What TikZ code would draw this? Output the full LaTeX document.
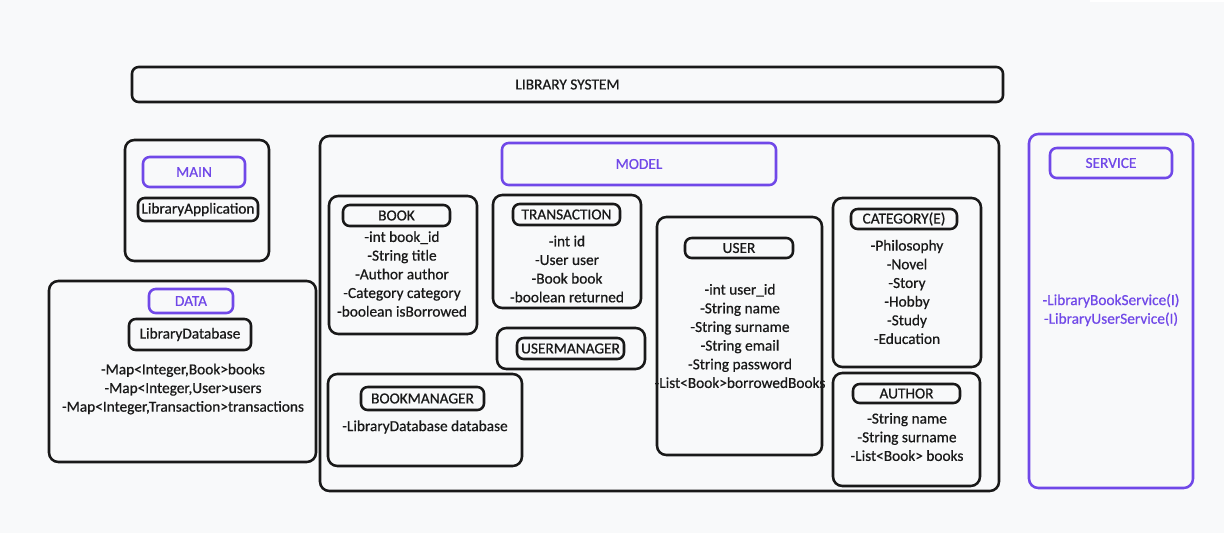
\documentclass[tikz,border=0pt]{standalone}
\usepackage{fontspec}
\setmainfont{Carlito}[FakeBold=0.6]
\usetikzlibrary{fit}
\definecolor{bg}{HTML}{F8F9FA}
\definecolor{vio}{HTML}{7048E8}
\begin{document}
\begin{tikzpicture}[x=0.75pt,y=-0.75pt,
  font=\fontsize{11.5}{14}\selectfont,
  box/.style={draw=black!90, line width=1.9pt, rounded corners=7pt, inner sep=0pt},
  pbox/.style={box, draw=vio},
  tag/.style={draw=black!90, line width=1.9pt, rounded corners=5pt, inner sep=0pt},
  ptag/.style={tag, draw=vio},
  txt/.style={align=center, inner sep=0pt, text=black!90},
  ptxt/.style={txt, text=vio}]
\fill[bg] (0,0) rectangle (1224,533);
\useasboundingbox (0,0) rectangle (1224,533);
\fill[white] (1090,0) rectangle (1224,2);
% title
\node[box, rounded corners=5pt, fit={(132,67)(1003,102)}] (title) {};
\node[txt] (titletxt) at (title.center) {LIBRARY SYSTEM};
% MAIN
\node[box, fit={(125,140)(269,261)}] (main) {};
\node[ptag, fit={(143,157)(245,187)}] (mainlbl) {};
\node[ptxt] (maintxt) at (mainlbl.center) {MAIN};
\node[tag, fit={(138,198)(258,221)}] (app) {};
\node[txt] (apptxt) at (app.center) {LibraryApplication};
% DATA
\node[box, fit={(49,281)(316,462)}] (data) {};
\node[ptag, fit={(149,289)(233,313)}] (datalbl) {};
\node[ptxt] (datalbltxt) at (datalbl.center) {DATA};
\node[tag, fit={(129,319)(251,350)}] (db) {};
\node[txt] (dbname) at (db.center) {LibraryDatabase};
\node[txt] (dbtxt) at (183,389) {-Map<Integer,Book>books\\-Map<Integer,User>users\\-Map<Integer,Transaction>transactions};
% MODEL
\node[box, fit={(320,136)(999,491)}] (model) {};
\node[ptag, fit={(502,143)(776,185)}] (modellbl) {};
\node[ptxt] (modeltxt) at (modellbl.center) {MODEL};
% BOOK
\node[box, fit={(329,196)(477,334)}] (book) {};
\node[tag, fit={(343,205)(450,226)}] (booklbl) {};
\node[txt] (booklbltxt) at (booklbl.center) {BOOK};
\node[txt] (booktxt) at (402,274) {-int book\_id\\-String title\\-Author author\\-Category category\\-boolean isBorrowed};
% TRANSACTION
\node[box, fit={(493,195)(641,308)}] (trans) {};
\node[tag, fit={(513,204)(620,225)}] (translbl) {};
\node[txt] (translbltxt) at (translbl.center) {TRANSACTION};
\node[txt] (transtxt) at (567,269) {-int id\\-User user\\-Book book\\-boolean returned};
% USERMANAGER
\node[box, fit={(497,328)(645,369)}] (um) {};
\node[tag, fit={(517,338)(624,359)}] (umlbl) {};
\node[txt] (umlbltxt) at (umlbl.center) {USERMANAGER};
% BOOKMANAGER
\node[box, fit={(328,374)(522,466)}] (bm) {};
\node[tag, fit={(361,387)(484,410)}] (bmlbl) {};
\node[txt] (bmlbltxt) at (bmlbl.center) {BOOKMANAGER};
\node[txt] (bmtxt) at (425,427) {-LibraryDatabase database};
% USER
\node[box, fit={(657,217)(822,455)}] (user) {};
\node[tag, fit={(685,238)(793,258)}] (userlbl) {};
\node[txt] (userlbltxt) at (userlbl.center) {USER};
\node[txt] (usertxt) at (740,336) {-int user\_id\\-String name\\-String surname\\-String email\\-String password\\-List<Book>borrowedBooks};
% CATEGORY
\node[box, fit={(833,198)(981,367)}] (cat) {};
\node[tag, fit={(851,209)(957,229)}] (catlbl) {};
\node[txt] (catlbltxt) at (catlbl.center) {CATEGORY(E)};
\node[txt] (cattxt) at (907,292) {-Philosophy\\-Novel\\-Story\\-Hobby\\-Study\\-Education};
% AUTHOR
\node[box, fit={(833,373)(980,486)}] (author) {};
\node[tag, fit={(853,384)(960,403)}] (authorlbl) {};
\node[txt] (authorlbltxt) at (authorlbl.center) {AUTHOR};
\node[txt] (authortxt) at (907,437) {-String name\\-String surname\\-List<Book> books};
% SERVICE
\node[pbox, fit={(1029,134)(1193,488)}] (service) {};
\node[ptag, fit={(1050,148)(1172,178)}] (servicelbl) {};
\node[ptxt] (servicelbltxt) at (servicelbl.center) {SERVICE};
\node[ptxt] (servicetxt) at (1111,310) {-LibraryBookService(I)\\-LibraryUserService(I)};
\end{tikzpicture}
\end{document}
